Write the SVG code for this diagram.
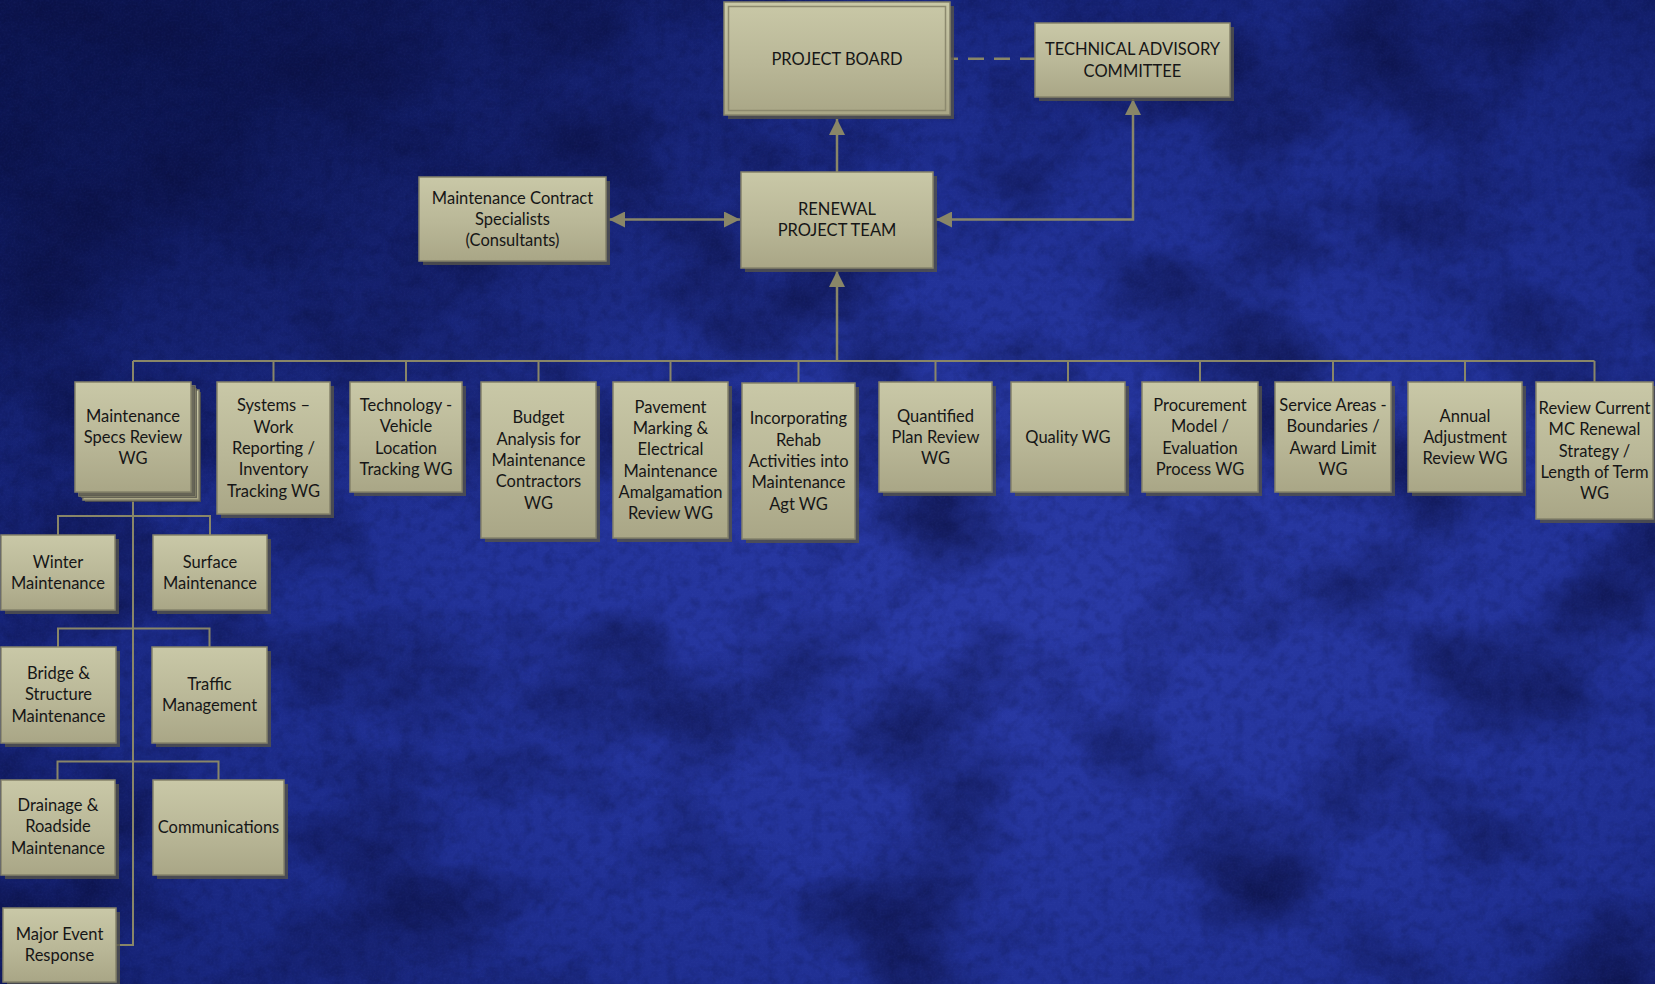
<svg xmlns="http://www.w3.org/2000/svg" width="1655" height="984" viewBox="0 0 1655 984">
<defs>
  <radialGradient id="bg" cx="0.63" cy="0.62" r="0.78">
    <stop offset="0" stop-color="#2a3aa6"/>
    <stop offset="0.45" stop-color="#223298"/>
    <stop offset="0.8" stop-color="#18267e"/>
    <stop offset="1" stop-color="#0f1a5e"/>
  </radialGradient>
  <radialGradient id="tl" cx="0.12" cy="0.1" r="0.45">
    <stop offset="0" stop-color="#0a1248" stop-opacity="0.7"/>
    <stop offset="1" stop-color="#0a1248" stop-opacity="0"/>
  </radialGradient>
  <filter id="mottle" x="0" y="0" width="100%" height="100%" color-interpolation-filters="sRGB">
    <feTurbulence type="fractalNoise" baseFrequency="0.006 0.008" numOctaves="4" seed="7"/>
    <feColorMatrix type="matrix" values="0 0 0 0 0.04  0 0 0 0 0.06  0 0 0 0 0.25  2.4 0 0 0 -1.05"/>
  </filter>
  <filter id="grain" x="0" y="0" width="100%" height="100%" color-interpolation-filters="sRGB">
    <feTurbulence type="fractalNoise" baseFrequency="0.5" numOctaves="2" seed="2"/>
    <feColorMatrix type="matrix" values="0 0 0 0 0.35  0 0 0 0 0.42  0 0 0 0 0.8  1.4 0 0 0 -0.55"/>
  </filter>
  <filter id="grain2" x="0" y="0" width="100%" height="100%" color-interpolation-filters="sRGB">
    <feTurbulence type="fractalNoise" baseFrequency="0.09" numOctaves="3" seed="11"/>
    <feColorMatrix type="matrix" values="0 0 0 0 0.02  0 0 0 0 0.04  0 0 0 0 0.2  2 0 0 0 -0.85"/>
  </filter>
  <linearGradient id="boxg" x1="0" y1="0" x2="0" y2="1">
    <stop offset="0" stop-color="#c9c8a7"/>
    <stop offset="0.55" stop-color="#b9b797"/>
    <stop offset="1" stop-color="#a9a686"/>
  </linearGradient>
  <marker id="ah" viewBox="0 0 10 10" refX="10" refY="5" markerWidth="20" markerHeight="16" markerUnits="userSpaceOnUse" orient="auto-start-reverse">
    <path d="M0,0 L10,5 L0,10 z" fill="#898668"/>
  </marker>
</defs>
<style>
  .box{fill:url(#boxg);stroke:#85826a;stroke-width:1.5}
  .sh{fill:#55544a;opacity:0.8}
  .t{font-family:Lato,"Liberation Sans",sans-serif;font-size:16.5px;fill:#161616;text-anchor:middle}
  .c{fill:none;stroke:#898668;stroke-width:2.5}
  .b{fill:none;stroke:#898668;stroke-width:2}
</style>

<g id="background">
  <rect x="0" y="0" width="1655" height="984" fill="url(#bg)"/>
  <rect x="0" y="0" width="1655" height="984" fill="url(#tl)"/>
  <rect x="0" y="0" width="1655" height="984" filter="url(#mottle)" opacity="0.75"/>
  <rect x="0" y="0" width="1655" height="984" filter="url(#grain2)" opacity="0.22"/>
  <rect x="0" y="0" width="1655" height="984" filter="url(#grain)" opacity="0.1"/>
</g>

<g id="connectors">
  <path class="c" d="M1036,58.7 H950" stroke-dasharray="16 10"/>
  <path class="c" d="M837,172 V119" marker-end="url(#ah)"/>
  <path class="c" d="M1133,99 V219.5 H936" marker-start="url(#ah)" marker-end="url(#ah)"/>
  <path class="c" d="M609,219.5 H740" marker-start="url(#ah)" marker-end="url(#ah)"/>
  <path class="c" d="M837,361 V271" marker-end="url(#ah)"/>
  <path class="b" d="M133,361 H1594.5"/>
  <path class="b" d="M133,361 V382 M273.5,361 V382 M406,361 V382 M538.5,361 V382 M670.5,361 V382 M798.5,361 V383 M935.5,361 V382 M1068,361 V382 M1200,361 V382 M1333,361 V382 M1465,361 V382 M1594.5,361 V382"/>
  <path class="b" d="M133,492 V945 H116"/>
  <path class="b" d="M58,535 V516 H210 V535"/>
  <path class="b" d="M58,647 V628.5 H209.5 V647"/>
  <path class="b" d="M57.5,780 V761.5 H218.5 V780"/>
</g>

<g id="project-board">
  <rect class="sh" x="728" y="6" width="226" height="113"/>
  <rect class="box" x="724" y="2" width="226" height="113"/>
  <rect x="728.5" y="6.5" width="217" height="104" fill="none" stroke="#8c896e" stroke-width="1.5"/>
  <text class="t" x="837" y="65">PROJECT BOARD</text>
</g>

<g id="technical-advisory-committee">
  <rect class="sh" x="1039" y="27" width="195" height="74"/>
  <rect class="box" x="1035" y="23" width="195" height="74"/>
  <text class="t"><tspan x="1132.5" y="55">TECHNICAL ADVISORY</tspan><tspan x="1132.5" y="76.5">COMMITTEE</tspan></text>
</g>

<g id="maintenance-contract-specialists">
  <rect class="sh" x="423" y="181" width="187" height="84"/>
  <rect class="box" x="419" y="177" width="187" height="84"/>
  <text class="t"><tspan x="512.5" y="203.7">Maintenance Contract</tspan><tspan x="512.5" y="225">Specialists</tspan><tspan x="512.5" y="246.3">(Consultants)</tspan></text>
</g>

<g id="renewal-project-team">
  <rect class="sh" x="745" y="176" width="192" height="96"/>
  <rect class="box" x="741" y="172" width="192" height="96"/>
  <text class="t"><tspan x="837" y="214.5">RENEWAL</tspan><tspan x="837" y="235.5">PROJECT TEAM</tspan></text>
</g>

<g id="wg-maintenance-specs-review">
  <rect class="sh" x="85" y="392" width="116" height="110"/>
  <rect class="box" x="83" y="390" width="116" height="110"/>
  <rect class="sh" x="81" y="388" width="116" height="110"/>
  <rect class="box" x="79" y="386" width="116" height="110"/>
  <rect class="sh" x="79" y="386" width="116" height="110"/>
  <rect class="box" x="75" y="382" width="116" height="110"/>
  <text class="t"><tspan x="133" y="421.7">Maintenance</tspan><tspan x="133" y="443">Specs Review</tspan><tspan x="133" y="464.3">WG</tspan></text>
</g>

<g id="wg-systems">
  <rect class="sh" x="221" y="386" width="113" height="132"/>
  <rect class="box" x="217" y="382" width="113" height="132"/>
  <text class="t"><tspan x="273.5" y="411.4">Systems –</tspan><tspan x="273.5" y="432.7">Work</tspan><tspan x="273.5" y="454">Reporting /</tspan><tspan x="273.5" y="475.3">Inventory</tspan><tspan x="273.5" y="496.6">Tracking WG</tspan></text>
</g>

<g id="wg-technology">
  <rect class="sh" x="354" y="386" width="112" height="110"/>
  <rect class="box" x="350" y="382" width="112" height="110"/>
  <text class="t"><tspan x="406" y="411">Technology -</tspan><tspan x="406" y="432.3">Vehicle</tspan><tspan x="406" y="453.6">Location</tspan><tspan x="406" y="475">Tracking WG</tspan></text>
</g>

<g id="wg-budget-analysis">
  <rect class="sh" x="485" y="386" width="115" height="156"/>
  <rect class="box" x="481" y="382" width="115" height="156"/>
  <text class="t"><tspan x="538.5" y="423.4">Budget</tspan><tspan x="538.5" y="444.7">Analysis for</tspan><tspan x="538.5" y="466">Maintenance</tspan><tspan x="538.5" y="487.3">Contractors</tspan><tspan x="538.5" y="508.6">WG</tspan></text>
</g>

<g id="wg-pavement-marking">
  <rect class="sh" x="617" y="386" width="115" height="156"/>
  <rect class="box" x="613" y="382" width="115" height="156"/>
  <text class="t"><tspan x="670.5" y="412.7">Pavement</tspan><tspan x="670.5" y="434">Marking &amp;</tspan><tspan x="670.5" y="455.3">Electrical</tspan><tspan x="670.5" y="476.7">Maintenance</tspan><tspan x="670.5" y="498">Amalgamation</tspan><tspan x="670.5" y="519.3">Review WG</tspan></text>
</g>

<g id="wg-incorporating-rehab">
  <rect class="sh" x="746" y="387" width="113" height="156"/>
  <rect class="box" x="742" y="383" width="113" height="156"/>
  <text class="t"><tspan x="798.5" y="424.4">Incorporating</tspan><tspan x="798.5" y="445.7">Rehab</tspan><tspan x="798.5" y="467">Activities into</tspan><tspan x="798.5" y="488.3">Maintenance</tspan><tspan x="798.5" y="509.6">Agt WG</tspan></text>
</g>

<g id="wg-quantified-plan">
  <rect class="sh" x="883" y="386" width="113" height="110"/>
  <rect class="box" x="879" y="382" width="113" height="110"/>
  <text class="t"><tspan x="935.5" y="421.7">Quantified</tspan><tspan x="935.5" y="443">Plan Review</tspan><tspan x="935.5" y="464.3">WG</tspan></text>
</g>

<g id="wg-quality">
  <rect class="sh" x="1015" y="386" width="114" height="110"/>
  <rect class="box" x="1011" y="382" width="114" height="110"/>
  <text class="t" x="1068" y="443">Quality WG</text>
</g>

<g id="wg-procurement">
  <rect class="sh" x="1146" y="386" width="116" height="110"/>
  <rect class="box" x="1142" y="382" width="116" height="110"/>
  <text class="t"><tspan x="1200" y="411">Procurement</tspan><tspan x="1200" y="432.3">Model /</tspan><tspan x="1200" y="453.6">Evaluation</tspan><tspan x="1200" y="475">Process WG</tspan></text>
</g>

<g id="wg-service-areas">
  <rect class="sh" x="1279" y="386" width="116" height="110"/>
  <rect class="box" x="1275" y="382" width="116" height="110"/>
  <text class="t"><tspan x="1333" y="411">Service Areas -</tspan><tspan x="1333" y="432.3">Boundaries /</tspan><tspan x="1333" y="453.6">Award Limit</tspan><tspan x="1333" y="475">WG</tspan></text>
</g>

<g id="wg-annual-adjustment">
  <rect class="sh" x="1412" y="386" width="114" height="110"/>
  <rect class="box" x="1408" y="382" width="114" height="110"/>
  <text class="t"><tspan x="1465" y="421.7">Annual</tspan><tspan x="1465" y="443">Adjustment</tspan><tspan x="1465" y="464.3">Review WG</tspan></text>
</g>

<g id="wg-review-current">
  <rect class="sh" x="1540" y="386" width="117" height="137"/>
  <rect class="box" x="1536" y="382" width="117" height="137"/>
  <text class="t"><tspan x="1594.5" y="413.9">Review Current</tspan><tspan x="1594.5" y="435.2">MC Renewal</tspan><tspan x="1594.5" y="456.5">Strategy /</tspan><tspan x="1594.5" y="477.8">Length of Term</tspan><tspan x="1594.5" y="499.1">WG</tspan></text>
</g>

<g id="winter-maintenance">
  <rect class="sh" x="5" y="539" width="114" height="75"/>
  <rect class="box" x="1" y="535" width="114" height="75"/>
  <text class="t"><tspan x="58" y="568">Winter</tspan><tspan x="58" y="589">Maintenance</tspan></text>
</g>

<g id="surface-maintenance">
  <rect class="sh" x="157" y="539" width="114" height="75"/>
  <rect class="box" x="153" y="535" width="114" height="75"/>
  <text class="t"><tspan x="210" y="568">Surface</tspan><tspan x="210" y="589">Maintenance</tspan></text>
</g>

<g id="bridge-structure-maintenance">
  <rect class="sh" x="5" y="651" width="115" height="96"/>
  <rect class="box" x="1" y="647" width="115" height="96"/>
  <text class="t"><tspan x="58.5" y="679">Bridge &amp;</tspan><tspan x="58.5" y="700.3">Structure</tspan><tspan x="58.5" y="721.6">Maintenance</tspan></text>
</g>

<g id="traffic-management">
  <rect class="sh" x="156" y="651" width="115" height="96"/>
  <rect class="box" x="152" y="647" width="115" height="96"/>
  <text class="t"><tspan x="209.5" y="689.5">Traffic</tspan><tspan x="209.5" y="710.5">Management</tspan></text>
</g>

<g id="drainage-roadside-maintenance">
  <rect class="sh" x="5" y="784" width="114" height="95"/>
  <rect class="box" x="1" y="780" width="114" height="95"/>
  <text class="t"><tspan x="58" y="811">Drainage &amp;</tspan><tspan x="58" y="832.3">Roadside</tspan><tspan x="58" y="853.6">Maintenance</tspan></text>
</g>

<g id="communications">
  <rect class="sh" x="157" y="784" width="131" height="95"/>
  <rect class="box" x="153" y="780" width="131" height="95"/>
  <text class="t" x="218.5" y="833">Communications</text>
</g>

<g id="major-event-response">
  <rect class="sh" x="7" y="912" width="113" height="74"/>
  <rect class="box" x="3" y="908" width="113" height="74"/>
  <text class="t"><tspan x="59.5" y="940">Major Event</tspan><tspan x="59.5" y="961">Response</tspan></text>
</g>
</svg>
